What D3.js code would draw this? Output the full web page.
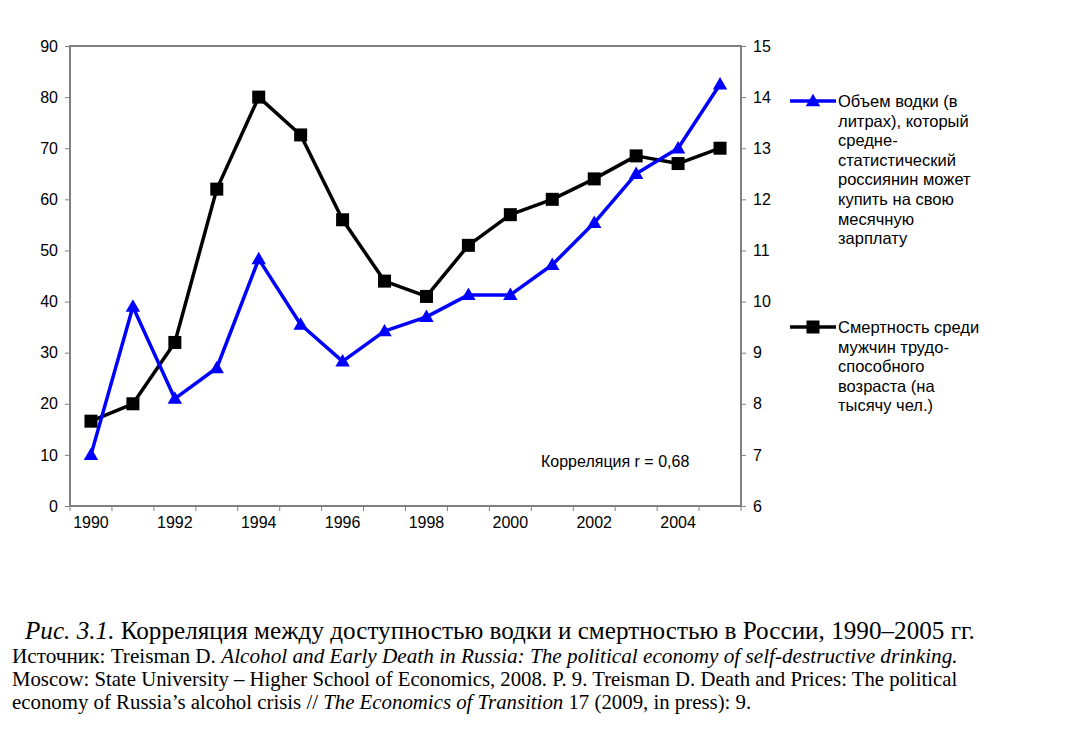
<!DOCTYPE html>
<html><head><meta charset="utf-8">
<script src="https://cdn.jsdelivr.net/npm/d3@7"></script>
<style>body{margin:0;background:#fff}svg{display:block}</style>
</head><body>
<svg id="c" width="1069" height="738"></svg>
<script>
const years = [1990,1991,1992,1993,1994,1995,1996,1997,1998,1999,2000,2001,2002,2003,2004,2005];
const vodka = [10,39,21,27,48.3,35.5,28.3,34.2,37,41.3,41.3,47.2,55.4,65,70,82.5];
const mortality = [7.66,8.0,9.2,12.2,14.0,13.26,11.6,10.4,10.1,11.1,11.7,12.0,12.4,12.85,12.7,13.0];
const leftTicks = [0,10,20,30,40,50,60,70,80,90];
const rightTicks = [6,7,8,9,10,11,12,13,14,15];
const xLabels = [1990,1992,1994,1996,1998,2000,2002,2004];
const legend1 = ["Объем водки (в","литрах), который","средне-","статистический","россиянин может","купить на свою","месячную","зарплату"];
const legend2 = ["Смертность среди","мужчин трудо-","способного","возраста (на","тысячу чел.)"];
const note = "Корреляция r = 0,68";

const svg = d3.select("#c");
const L=70,R=741,T=46,B=506;
const x = d3.scaleBand().domain(years).range([L,R]);
const yL = d3.scaleLinear().domain([0,90]).range([B,T]);
const yR = d3.scaleLinear().domain([6,15]).range([B,T]);
const font = "'Liberation Sans', Arial, sans-serif";
const gray = "#808080";
const fs = 16;

// frame
svg.append("rect").attr("x",L).attr("y",T).attr("width",R-L).attr("height",B-T)
  .attr("fill","none").attr("stroke",gray).attr("stroke-width",2);

// left axis
const gl = svg.append("g").attr("transform",`translate(${L},0)`)
  .call(d3.axisLeft(yL).tickValues(leftTicks).tickSize(5).tickPadding(7));
// right axis
const gr = svg.append("g").attr("transform",`translate(${R},0)`)
  .call(d3.axisRight(yR).tickValues(rightTicks).tickSize(5).tickPadding(7));
// x axis: ticks at category boundaries
const gx = svg.append("g").attr("transform",`translate(0,${B})`);
const bounds = years.map(d=>x(d)).concat([R]);
gx.selectAll("line.t").data(bounds).join("line")
  .attr("x1",d=>d).attr("x2",d=>d).attr("y1",0).attr("y2",5).attr("stroke",gray).attr("stroke-width",1);
gx.selectAll("text").data(xLabels).join("text")
  .attr("x",d=>x(d)+x.bandwidth()/2).attr("y",22).attr("text-anchor","middle")
  .attr("font-family",font).attr("font-size",fs).text(d=>d);
[gl,gr].forEach(g=>{
  g.select(".domain").remove();
  g.selectAll("line").attr("stroke",gray);
  g.selectAll("text").attr("font-family",font).attr("font-size",fs).attr("fill","#000");
});

const cx = d=>x(d)+x.bandwidth()/2;
const blue="#0000ff";
// mortality line (black, right axis)
svg.append("path").datum(years.map((d,i)=>[cx(d),yR(mortality[i])]))
  .attr("d",d3.line()).attr("fill","none").attr("stroke","#000").attr("stroke-width",3.5).attr("stroke-linejoin","round");
// vodka line (blue, left axis)
svg.append("path").datum(years.map((d,i)=>[cx(d),yL(vodka[i])]))
  .attr("d",d3.line()).attr("fill","none").attr("stroke",blue).attr("stroke-width",3.5).attr("stroke-linejoin","round");

const tri = d3.symbol().type(d3.symbolTriangle).size(90);
svg.selectAll("path.tri").data(years).join("path").attr("class","tri")
  .attr("d",tri).attr("transform",(d,i)=>`translate(${cx(d)},${yL(vodka[i])+1})`).attr("fill",blue);
svg.selectAll("rect.sq").data(years).join("rect").attr("class","sq")
  .attr("x",d=>cx(d)-6.5).attr("y",(d,i)=>yR(mortality[i])-6.5).attr("width",13).attr("height",13).attr("fill","#000");

// correlation note
svg.append("text").attr("x",541).attr("y",467).attr("font-family",font).attr("font-size",fs).text(note);

// legend
function legend(lines,y0,color,marker){
  svg.append("line").attr("x1",790).attr("x2",836).attr("y1",y0).attr("y2",y0).attr("stroke",color).attr("stroke-width",3.5);
  if(marker==="tri") svg.append("path").attr("d",tri).attr("transform",`translate(813,${y0+1})`).attr("fill",color);
  else svg.append("rect").attr("x",806.5).attr("y",y0-6.5).attr("width",13).attr("height",13).attr("fill",color);
  svg.append("g").selectAll("text").data(lines).join("text")
    .attr("x",838).attr("y",(d,i)=>y0+6+i*19.6).attr("font-family",font).attr("font-size",fs+0.5).text(d=>d);
}
legend(legend1,101,blue,"tri");
legend(legend2,327,"#000","sq");

// caption
const serif = "'Liberation Serif','Times New Roman',serif";
function capLine(parts,x0,yb,size,targetW){
  const t = svg.append("text").attr("x",0).attr("y",0).attr("font-family",serif).attr("font-size",size);
  parts.forEach(p=>t.append("tspan").attr("font-style",p[1]?"italic":"normal").text(p[0]));
  const w = t.node().getComputedTextLength();
  t.attr("transform",`translate(${x0},${yb}) scale(${targetW/w},1)`);
}
capLine([["Рис. 3.1.",true],[" Корреляция между доступностью водки и смертностью в России, 1990–2005 гг.",false]],25,639,25,950);
capLine([["Источник: Treisman D. ",false],["Alcohol and Early Death in Russia: The political economy of self-destructive drinking.",true]],12,663,20,946);
capLine([["Moscow: State University – Higher School of Economics, 2008. P. 9. Treisman D. Death and Prices: The political",false]],12,686,20,946);
capLine([["economy of Russia’s alcohol crisis // ",false],["The Economics of Transition",true],[" 17 (2009, in press): 9.",false]],12,709,20,740);
</script>
</body></html>
